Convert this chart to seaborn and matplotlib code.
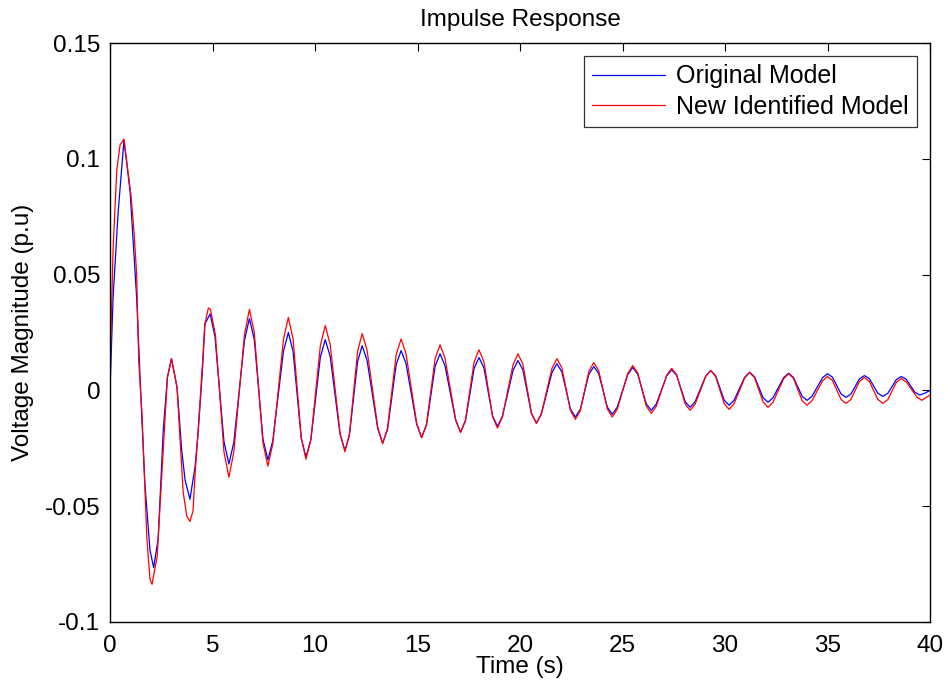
import matplotlib
matplotlib.use("Agg")
import matplotlib.pyplot as plt
import seaborn as sns
import pandas as pd

# ---- data ----
orig_time = [0, 0.15, 0.39, 0.68, 0.98, 1.3, 1.55, 1.7, 1.95, 2.13, 2.35, 2.5, 2.6, 2.8,
             3.0, 3.27, 3.5, 3.66, 3.9, 4.15, 4.3, 4.5, 4.63, 4.88,
             5.12, 5.56, 5.8, 6.04, 6.56, 6.8, 7.04, 7.46, 7.7, 7.94, 8.46, 8.7, 8.93, 9.33,
             9.56, 9.8, 10.26, 10.5, 10.74, 11.22, 11.46, 11.68, 12.08, 12.3, 12.54, 13.06,
             13.3, 13.54, 13.96, 14.2, 14.44, 14.96, 15.2, 15.44, 15.86, 16.1, 16.34, 16.86,
             17.1, 17.34, 17.76, 18.0, 18.24, 18.66, 18.9, 19.14, 19.66, 19.9, 20.14, 20.56,
             20.8, 21.04, 21.56, 21.8, 22.04, 22.46, 22.7, 22.94, 23.36, 23.6, 23.84, 24.26,
             24.5, 24.74, 25.26, 25.5, 25.74, 26.16, 26.4, 26.64, 27.16, 27.4, 27.64, 28.06,
             28.3, 28.54, 29.06, 29.3, 29.54, 29.96, 30.2, 30.44, 30.96, 31.2, 31.44, 31.86,
             32.1, 32.34, 32.86, 33.1, 33.34, 33.76, 34.0, 34.24, 34.76, 35.0, 35.24, 35.66,
             35.9, 36.14, 36.56, 36.8, 37.04, 37.46, 37.7, 37.94, 38.36, 38.6, 38.84, 39.26,
             39.5, 39.75, 40.0]
orig_value = [0.0, 0.040, 0.076, 0.108, 0.086, 0.040, -0.0116, -0.040, -0.069, -0.0765,
              -0.064, -0.036, -0.017, 0.0056, 0.0137, 0.0013, -0.026, -0.0386, -0.047,
              -0.033, -0.018, 0.0073, 0.0287, 0.033,
              0.0233, -0.0221, -0.0318, -0.0224, 0.0216, 0.031, 0.0219, -0.0209, -0.030,
              -0.0218, 0.0168, 0.025, 0.0169, -0.0207, -0.0288, -0.0212, 0.0143, 0.0219,
              0.0147, -0.0188, -0.026, -0.0192, 0.0125, 0.0193, 0.0130, -0.0165, -0.0228,
              -0.0168, 0.0112, 0.0172, 0.0116, -0.0147, -0.0203, -0.0149, 0.0104, 0.0158,
              0.0107, -0.0129, -0.018, -0.0132, 0.0094, 0.0142, 0.0097, -0.0110, -0.0155,
              -0.0112, 0.0086, 0.0129, 0.0089, -0.0101, -0.0141, -0.0103, 0.0077, 0.0115,
              0.0080, -0.0080, -0.0115, -0.0082, 0.0070, 0.0103, 0.0072, -0.0072, -0.0103,
              -0.0073, 0.0069, 0.0099, 0.0071, -0.0058, -0.0086, -0.0060, 0.0063, 0.0089,
              0.0065, -0.0049, -0.0073, -0.0049, 0.0062, 0.0086, 0.0064, -0.0042, -0.0064,
              -0.0043, 0.0057, 0.0078, 0.0059, -0.0032, -0.0051, -0.0032, 0.0055, 0.0074,
              0.0056, -0.0025, -0.0043, -0.0026, 0.0055, 0.0072, 0.0057, -0.0015, -0.003,
              -0.0016, 0.0050, 0.0064, 0.0051, -0.0013, -0.0026, -0.0013, 0.0047, 0.006,
              0.0048, -0.0008, -0.002, -0.0012, 0.0]

new_time = [0, 0.15, 0.33, 0.49, 0.68, 1.02, 1.17, 1.3, 1.4, 1.56, 1.8, 1.95, 2.05, 2.3,
            2.44, 2.6, 2.8, 3.0, 3.27, 3.57, 3.75, 3.9, 4.05, 4.15, 4.28, 4.48, 4.63, 4.8,
            4.9, 5.14, 5.56, 5.8, 6.04, 6.56, 6.8, 7.04, 7.46, 7.7, 7.94, 8.46, 8.7, 8.93,
            9.33, 9.56, 9.8, 10.26, 10.5, 10.74, 11.22, 11.46, 11.68, 12.08, 12.3, 12.54,
            13.06, 13.3, 13.54, 13.96, 14.2, 14.44, 14.96, 15.2, 15.44, 15.86, 16.1, 16.34,
            16.86, 17.1, 17.34, 17.76, 18.0, 18.24, 18.66, 18.9, 19.14, 19.66, 19.9, 20.14,
            20.56, 20.8, 21.04, 21.56, 21.8, 22.04, 22.46, 22.7, 22.94, 23.36, 23.6, 23.84,
            24.26, 24.5, 24.74, 25.26, 25.5, 25.74, 26.16, 26.4, 26.64, 27.16, 27.4, 27.64,
            28.06, 28.3, 28.54, 29.06, 29.3, 29.54, 29.96, 30.2, 30.44, 30.96, 31.2, 31.44,
            31.86, 32.1, 32.34, 32.86, 33.1, 33.34, 33.76, 34.0, 34.24, 34.76, 35.0, 35.24,
            35.66, 35.9, 36.14, 36.56, 36.8, 37.04, 37.46, 37.7, 37.94, 38.36, 38.6, 38.84,
            39.36, 39.6, 40.0]
new_value = [0.008, 0.061, 0.095, 0.106, 0.1085, 0.0845, 0.0687, 0.050, 0.013, -0.010,
             -0.064, -0.0815, -0.0837, -0.0717, -0.050, -0.026, 0.0056, 0.0137, 0.0013,
             -0.044, -0.0545, -0.0566, -0.052, -0.036, -0.020, 0.0073, 0.0287, 0.0356,
             0.035, 0.0241, -0.0266, -0.0375, -0.0266, 0.0241, 0.035, 0.0249, -0.0226,
             -0.0327, -0.0231, 0.0219, 0.0315, 0.0223, -0.0205, -0.0297, -0.0211, 0.0193,
             0.028, 0.0198, -0.0183, -0.0265, -0.0189, 0.0169, 0.0245, 0.0174, -0.0159,
             -0.023, -0.0162, 0.0154, 0.0222, 0.0158, -0.0141, -0.0205, -0.0145, 0.0137,
             0.0197, 0.0140, -0.0125, -0.0182, -0.0128, 0.0122, 0.0175, 0.0124, -0.0112,
             -0.0163, -0.0115, 0.0110, 0.0158, 0.0113, -0.0098, -0.0143, -0.0101, 0.0095,
             0.0137, 0.0098, -0.0086, -0.0125, -0.0088, 0.0083, 0.012, 0.0085, -0.0080,
             -0.0115, -0.0082, 0.0074, 0.0107, 0.0076, -0.0068, -0.0099, -0.0070, 0.0066,
             0.0095, 0.0068, -0.0059, -0.0086, -0.0060, 0.0060, 0.0086, 0.0061, -0.0057,
             -0.0082, -0.0058, 0.0054, 0.0078, 0.0055, -0.0050, -0.0073, -0.0051, 0.0050,
             0.0072, 0.0052, -0.0044, -0.0064, -0.0045, 0.0041, 0.006, 0.0043, -0.0039,
             -0.0056, -0.0039, 0.0039, 0.0056, 0.0039, -0.0039, -0.0056, -0.0040, 0.0035,
             0.0051, 0.0037, -0.0029, -0.0043, -0.002]

series_names = ["Original Model", "New Identified Model"]
series_colors = ["#0000FF", "#FF0000"]
x_ticks = [0, 5, 10, 15, 20, 25, 30, 35, 40]
y_ticks = [-0.1, -0.05, 0, 0.05, 0.1, 0.15]
y_tick_labels = ["-0.1", "-0.05", "0", "0.05", "0.1", "0.15"]

df = pd.concat([
    pd.DataFrame({"Time": orig_time, "Value": orig_value, "Model": series_names[0]}),
    pd.DataFrame({"Time": new_time, "Value": new_value, "Model": series_names[1]}),
], ignore_index=True)

sns.set_style("white")
plt.rcParams["font.family"] = ["Liberation Sans", "DejaVu Sans"]
plt.rcParams["text.color"] = "black"
plt.rcParams["axes.labelcolor"] = "black"

FS = 17.5

fig = plt.figure(figsize=(9.46, 6.86), dpi=100)
ax = fig.add_axes([110 / 946, 1 - 622 / 686, 820 / 946, 579 / 686])

sns.lineplot(data=df, x="Time", y="Value", hue="Model", hue_order=series_names,
             palette=series_colors, estimator=None, sort=False, linewidth=0.9, ax=ax)

ax.set_xlim(0, 40)
ax.set_ylim(-0.1, 0.15)
ax.set_xticks(x_ticks)
ax.set_xticklabels([str(t) for t in x_ticks])
ax.set_yticks(y_ticks)
ax.set_yticklabels(y_tick_labels)
ax.tick_params(direction="in", top=True, right=True, length=6, width=0.8,
               labelsize=FS, colors="black")
ax.tick_params(axis="x", pad=9)
ax.tick_params(axis="y", pad=7)
for sp in ax.spines.values():
    sp.set_color("black")
    sp.set_linewidth(1.0)

ax.set_title("Impulse Response", fontsize=FS, pad=12, color="black")
ax.set_xlabel("Time (s)", fontsize=FS, labelpad=0, color="black")
ax.set_ylabel("Voltage Magnitude (p.u)", fontsize=FS, labelpad=8, color="black")

leg = ax.legend(loc="upper right", bbox_to_anchor=(917 / 946, 1 - 56 / 686),
                bbox_transform=fig.transFigure, borderaxespad=0, frameon=True,
                fancybox=False, fontsize=18, handlelength=2.9, handletextpad=0.45,
                labelspacing=0.26, borderpad=0.33)
leg.get_frame().set_edgecolor("black")
leg.get_frame().set_linewidth(0.9)
for t in leg.get_texts():
    t.set_color("black")

fig.savefig("out.png", dpi=100)
